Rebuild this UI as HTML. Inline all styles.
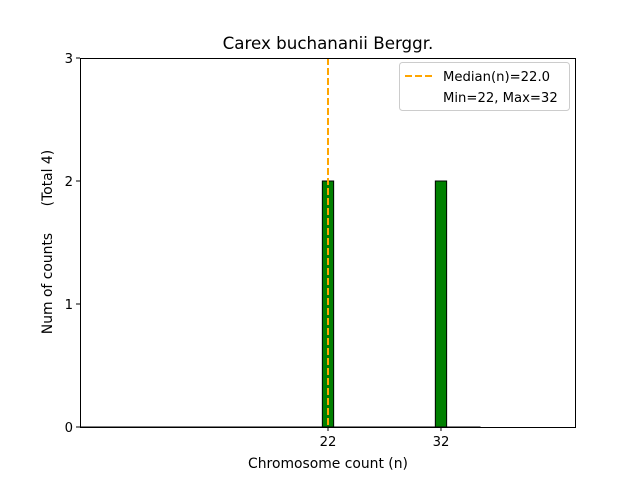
<!DOCTYPE html>
<html><head><meta charset="utf-8"><style>
body{margin:0;background:#fff;}
svg{display:block;font-family:"DejaVu Sans","Liberation Sans",sans-serif;}
</style></head><body>
<svg id="chart" width="640" height="480">
<text x="328" y="49" font-size="16.7" text-anchor="middle">Carex buchananii Berggr.</text>
<g id="plot"></g>
<text x="328" y="468" font-size="13.9" text-anchor="middle">Chromosome count (n)</text>
<text transform="translate(52,242) rotate(-90)" font-size="13.9" text-anchor="middle">Num of counts&#160;&#160;&#160;&#160;&#160;&#160;(Total 4)</text>
<g>
<rect x="399.5" y="62.5" width="170" height="48" rx="3" fill="#fff" stroke="#ccc"/>
<line x1="405" y1="76" x2="433" y2="76" stroke="orange" stroke-width="2" stroke-dasharray="7,3"/>
<text x="443" y="81" font-size="13.2">Median(n)=22.0</text>
<text x="443" y="102" font-size="13.2">Min=22, Max=32</text>
</g>
</svg>
<script>
const categories=[22,32];
const counts=[2,2];
const yTicks=[0,1,2,3];
const medianValue=22.0;
const xMin=0.05,xMax=43.95,yMax=3;
const L=80,R=576,T=58,B=427;
const sx=v=>L+(v-xMin)/(xMax-xMin)*(R-L);
const sy=v=>B-v/yMax*(B-T);
const g=document.getElementById('plot');
const NS='http://www.w3.org/2000/svg';
function mk(t,a){const e=document.createElementNS(NS,t);for(const k in a)e.setAttribute(k,a[k]);g.appendChild(e);return e;}
let bl=mk('line',{x1:sx(xMin),y1:B,x2:sx(35.5),y2:B,stroke:'#000','stroke-width':1});


categories.forEach((c,i)=>{
 const r=mk('rect',{x:sx(c-0.5),y:sy(counts[i]),width:sx(c+0.5)-sx(c-0.5),height:B-sy(counts[i]),fill:'green',stroke:'#000','stroke-width':1});
 
 
 const tk=mk('line',{x1:sx(c),y1:B,x2:sx(c),y2:B+4,stroke:'#000'});
 
 
 const tl=mk('text',{x:sx(c),y:B+19,'font-size':13.2,'text-anchor':'middle'});
 tl.textContent=c;
 
 
});
const md=mk('line',{x1:sx(medianValue),y1:T,x2:sx(medianValue),y2:B,stroke:'orange','stroke-width':2,'stroke-dasharray':'7,3'});


yTicks.forEach(v=>{
 const tk=mk('line',{x1:L-4,y1:sy(v),x2:L,y2:sy(v),stroke:'#000'});
 
 
 const tl=mk('text',{x:L-7,y:sy(v)+5,'font-size':13.2,'text-anchor':'end'});
 tl.textContent=v;
 
 
});
const fr=mk('rect',{x:L+0.5,y:T+0.5,width:R-L-1,height:B-T,fill:'none',stroke:'#000','stroke-width':1});


</script>
</body></html>
